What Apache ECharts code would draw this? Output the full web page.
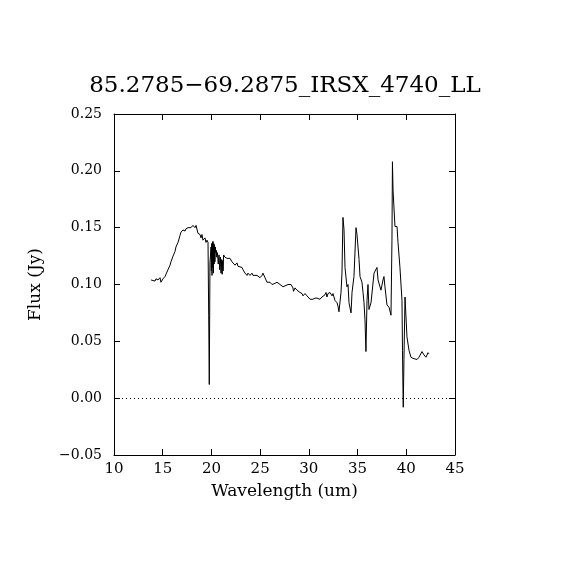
<!DOCTYPE html>
<html>
<head>
<meta charset="utf-8">
<script src="https://cdn.jsdelivr.net/npm/echarts/dist/echarts.min.js"></script>
<style>html,body{margin:0;padding:0;background:#fff;}#c{width:570px;height:570px;}</style>
</head>
<body>
<div id="c"></div>
<script>
var titleText = '85.2785\u221269.2875_IRSX_4740_LL';
var xTicks = [10, 15, 20, 25, 30, 35, 40, 45];
var yTicks = [-0.05, 0.00, 0.05, 0.10, 0.15, 0.20, 0.25];

var wavelength = [
13.80,14.00,14.21,14.31,14.52,14.72,14.82,15.03,15.23,15.34,15.54,15.75,15.85,16.06,16.26,16.36,16.57,16.77,16.88,17.08,
17.29,17.39,17.60,17.80,17.90,18.11,18.31,18.42,18.62,18.83,18.93,19.03,19.13,19.34,19.44,19.55,19.65,19.72,19.78,19.85,
19.96,19.99,20.03,20.06,20.10,20.13,20.16,20.20,20.24,20.28,20.32,20.36,20.40,20.45,20.50,20.55,20.62,20.70,20.78,20.85,
20.92,20.98,21.05,21.10,21.15,21.20,21.25,21.39,21.60,21.70,21.91,22.11,22.21,22.42,22.62,22.73,22.93,23.14,23.24,23.45,
23.65,23.75,23.96,24.16,24.27,24.47,24.68,24.78,24.99,25.19,25.29,25.50,25.70,25.81,26.01,26.22,26.32,26.52,26.73,26.83,
27.04,27.24,27.35,27.55,27.86,28.17,28.37,28.42,28.58,28.78,28.89,29.09,29.30,29.40,29.60,29.81,29.91,30.12,30.32,30.42,
30.63,30.84,30.94,31.14,31.35,31.45,31.66,31.76,31.86,31.96,32.17,32.38,32.48,32.68,32.89,32.99,33.09,33.30,33.40,33.50,
33.61,33.71,33.91,34.02,34.12,34.33,34.43,34.63,34.84,34.94,35.15,35.25,35.45,35.56,35.66,35.76,35.86,35.97,36.07,36.17,
36.38,36.58,36.69,36.99,37.10,37.40,37.61,37.71,37.81,38.02,38.23,38.43,38.53,38.58,38.64,38.84,39.05,39.15,39.35,39.56,
39.61,39.66,39.69,39.76,39.87,40.07,40.28,40.48,40.69,40.89,41.10,41.30,41.41,41.61,41.72,41.82,42.02,42.23,42.33
];
var flux = [
0.104,0.105,0.103,0.105,0.104,0.106,0.102,0.105,0.107,0.108,0.113,0.117,0.120,0.125,0.129,0.133,0.137,0.143,0.146,0.148,
0.147,0.149,0.150,0.151,0.150,0.152,0.150,0.152,0.145,0.144,0.141,0.144,0.139,0.141,0.137,0.139,0.137,0.073,0.012,0.119,
0.133,0.112,0.136,0.108,0.137,0.115,0.138,0.110,0.136,0.118,0.135,0.120,0.133,0.128,0.130,0.124,0.128,0.118,0.126,0.113,
0.124,0.110,0.122,0.109,0.121,0.112,0.126,0.124,0.123,0.122,0.123,0.120,0.119,0.117,0.119,0.116,0.117,0.115,0.113,0.110,
0.108,0.110,0.108,0.110,0.108,0.107,0.108,0.107,0.106,0.108,0.110,0.106,0.102,0.101,0.102,0.100,0.101,0.101,0.102,0.101,
0.100,0.100,0.098,0.099,0.100,0.100,0.097,0.094,0.097,0.095,0.094,0.093,0.092,0.090,0.092,0.090,0.089,0.087,0.086,0.087,
0.088,0.088,0.088,0.087,0.089,0.088,0.091,0.093,0.089,0.092,0.093,0.090,0.092,0.086,0.084,0.081,0.076,0.093,0.110,0.159,
0.148,0.115,0.098,0.100,0.084,0.075,0.093,0.107,0.150,0.144,0.122,0.107,0.102,0.093,0.084,0.069,0.041,0.086,0.100,0.078,
0.084,0.084,0.110,0.115,0.104,0.095,0.104,0.107,0.098,0.082,0.080,0.073,0.139,0.208,0.183,0.151,0.151,0.137,0.115,0.086,
0.042,0.008,-0.008,0.034,0.089,0.054,0.042,0.036,0.035,0.036,0.034,0.036,0.035,0.041,0.042,0.038,0.036,0.040,0.039
];

var seriesData = wavelength.map(function (w, i) { return [w, flux[i]]; });
var FONT = 'DejaVu Serif';

function fmtY(v) { return v.toFixed(2).replace('-', '\u2212'); }

var chart = echarts.init(document.getElementById('c'), null, { renderer: 'canvas' });
var tickCommon = { show: true, inside: true, length: 6, lineStyle: { color: '#000', width: 1 } };
chart.setOption({
  animation: false,
  backgroundColor: '#fff',
  title: {
    text: titleText, left: 'center', top: 70,
    textStyle: { fontFamily: FONT, fontSize: 23, fontWeight: 'normal', color: '#000' }
  },
  grid: { left: 114, right: 115, top: 114, bottom: 115, show: false },
  xAxis: [{
    type: 'value', min: xTicks[0], max: xTicks[xTicks.length - 1], interval: 5,
    position: 'bottom',
    name: 'Wavelength (um)', nameLocation: 'middle', nameGap: 28,
    nameTextStyle: { fontFamily: FONT, fontSize: 17, color: '#000' },
    axisLine: { show: true, onZero: false, lineStyle: { color: '#000', width: 1 } },
    axisTick: tickCommon, splitLine: { show: false },
    axisLabel: { fontFamily: FONT, fontSize: 15, color: '#000', margin: 7 }
  }, {
    type: 'value', min: xTicks[0], max: xTicks[xTicks.length - 1], interval: 5,
    position: 'top',
    axisLine: { show: true, onZero: false, lineStyle: { color: '#000', width: 1 } },
    axisTick: tickCommon, splitLine: { show: false }, axisLabel: { show: false }
  }],
  yAxis: [{
    type: 'value', min: yTicks[0], max: yTicks[yTicks.length - 1], interval: 0.05,
    position: 'left',
    name: 'Flux (Jy)', nameLocation: 'middle', nameGap: 70, nameRotate: 90,
    nameTextStyle: { fontFamily: FONT, fontSize: 17, color: '#000' },
    axisLine: { show: true, onZero: false, lineStyle: { color: '#000', width: 1 } },
    axisTick: tickCommon, splitLine: { show: false },
    axisLabel: { fontFamily: FONT, fontSize: 14, color: '#000', margin: 12, formatter: fmtY }
  }, {
    type: 'value', min: yTicks[0], max: yTicks[yTicks.length - 1], interval: 0.05,
    position: 'right',
    axisLine: { show: true, onZero: false, lineStyle: { color: '#000', width: 1 } },
    axisTick: tickCommon, splitLine: { show: false }, axisLabel: { show: false }
  }],
  series: [{
    type: 'line', data: seriesData, xAxisIndex: 0, yAxisIndex: 0,
    showSymbol: false, symbol: 'none',
    lineStyle: { color: '#000', width: 1 },
    markLine: {
      silent: true, symbol: 'none', label: { show: false },
      lineStyle: { color: '#000', width: 1, type: [1, 3] },
      data: [{ yAxis: 0 }]
    }
  }]
});
</script>
</body>
</html>
